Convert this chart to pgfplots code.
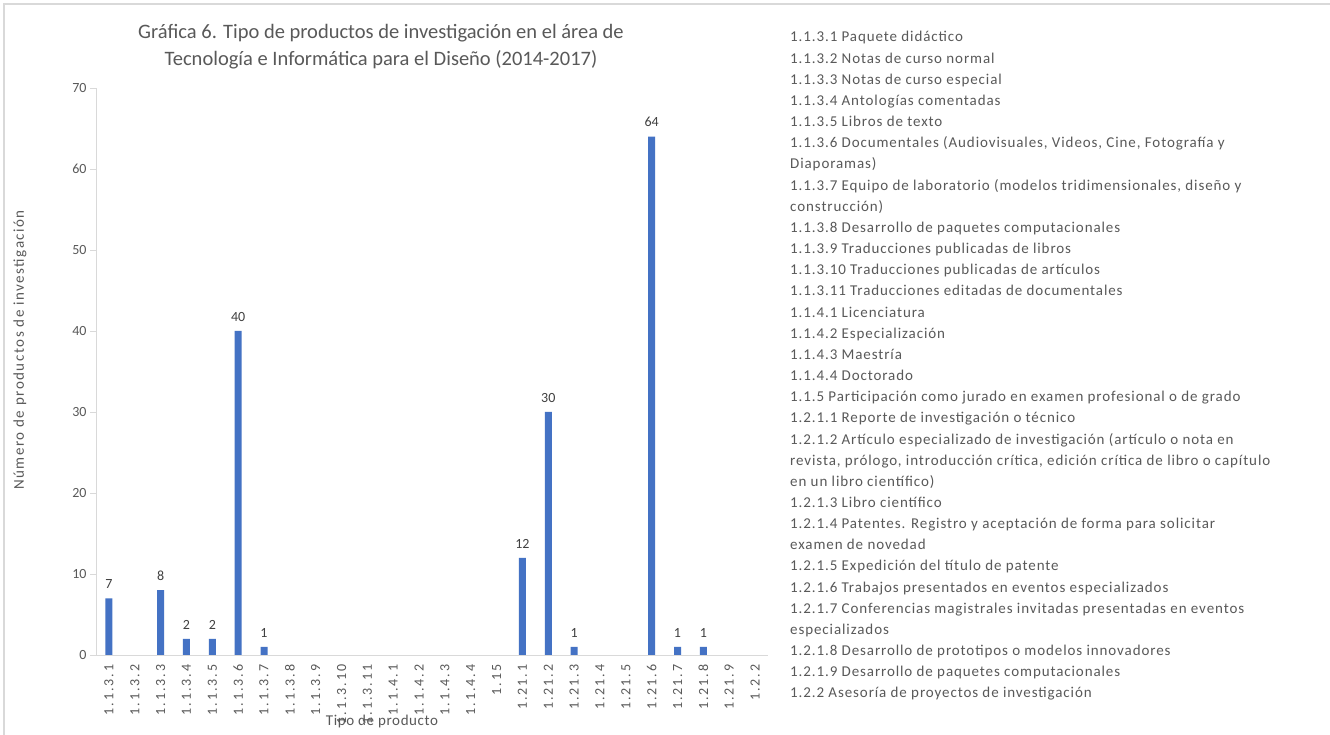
\documentclass[border=0pt]{standalone}
\usepackage{pgfplots}
\pgfplotsset{compat=1.18}
\usepackage{fontspec}
\setmainfont{Carlito}
\definecolor{excelblue}{HTML}{4472C4}
\definecolor{txtgray}{HTML}{595959}
\definecolor{lblgray}{HTML}{404040}
\definecolor{axgray}{HTML}{D9D9D9}
\begin{document}
\begin{tikzpicture}[x=1pt,y=1pt]
\useasboundingbox (0,0) rectangle (1330,735);
\fill[white] (0,0) rectangle (1330,735);
\draw[axgray, line width=1.2pt] (4,0) -- (4,731) -- (1330,731);
\node[font=\fontsize{20.5}{27}\selectfont, text=txtgray, align=center] at (381,688) {Gráfica 6. Tipo de productos de investigación en el área de\\Tecnología e Informática para el Diseño (2014-2017)};
\begin{axis}[
  at={(96pt,80pt)}, anchor=south west,
  scale only axis, width=672pt, height=567pt,
  xmin=-0.5, xmax=25.5, ymin=0, ymax=70,
  ytick distance=10,
  xtick={0,...,25},
  xticklabels={1.1.3.1,1.1.3.2,1.1.3.3,1.1.3.4,1.1.3.5,1.1.3.6,1.1.3.7,1.1.3.8,1.1.3.9,1.1.3.10,1.1.3.11,1.1.4.1,1.1.4.2,1.1.4.3,1.1.4.4,1.15,1.21.1,1.21.2,1.21.3,1.21.4,1.21.5,1.21.6,1.21.7,1.21.8,1.21.9,1.2.2},
  x tick label style={rotate=90, anchor=east, font=\fontsize{14}{15}\selectfont\addfontfeature{LetterSpace=14}, text=txtgray},
  y tick label style={font=\fontsize{14}{15}\selectfont, text=txtgray},
  /pgf/number format/assume math mode=true,
  axis x line*=bottom, axis y line*=left,
  axis line style={axgray, line width=0.8pt, -},
  xtick style={draw=none},
  ytick style={axgray, line width=0.8pt},
  tick align=outside, major tick length=6pt,
  xlabel={Tipo de producto},
  ylabel={Número de productos de investigación},
  xlabel style={font=\fontsize{15}{16}\selectfont\addfontfeature{LetterSpace=4}, text=txtgray, at={(axis description cs:0.4256,-0.118)}, anchor=center},
  ylabel style={font=\fontsize{15}{16}\selectfont\addfontfeature{LetterSpace=10}, text=txtgray, at={(axis description cs:-0.113,0.538)}, anchor=center},
  ybar, bar width=7pt,
  nodes near coords,
  nodes near coords style={font=\fontsize{14}{15}\selectfont, text=lblgray, yshift=6pt},
  point meta=explicit symbolic,
  clip=false,
]
\addplot[fill=excelblue, draw=none] table[meta=lab] {
x y lab
0 7 7
2 8 8
3 2 2
4 2 2
5 40 40
6 1 1
16 12 12
17 30 30
18 1 1
21 64 64
22 1 1
23 1 1
};
\end{axis}
\foreach \t [count=\i from 0] in {
{1.1.3.1 Paquete didáctico},
{1.1.3.2 Notas de curso normal},
{1.1.3.3 Notas de curso especial},
{1.1.3.4 Antologías comentadas},
{1.1.3.5 Libros de texto},
{1.1.3.6 Documentales (Audiovisuales, Videos, Cine, Fotografía y},
{Diaporamas)},
{1.1.3.7 Equipo de laboratorio (modelos tridimensionales, diseño y},
{construcción)},
{1.1.3.8 Desarrollo de paquetes computacionales},
{1.1.3.9 Traducciones publicadas de libros},
{1.1.3.10 Traducciones publicadas de artículos},
{1.1.3.11 Traducciones editadas de documentales},
{1.1.4.1 Licenciatura},
{1.1.4.2 Especialización},
{1.1.4.3 Maestría},
{1.1.4.4 Doctorado},
{1.1.5 Participación como jurado en examen profesional o de grado},
{1.2.1.1 Reporte de investigación o técnico},
{1.2.1.2 Artículo especializado de investigación (artículo o nota en},
{revista, prólogo, introducción crítica, edición crítica de libro o capítulo},
{en un libro científico)},
{1.2.1.3 Libro científico},
{1.2.1.4 Patentes. Registro y aceptación de forma para solicitar},
{examen de novedad},
{1.2.1.5 Expedición del título de patente},
{1.2.1.6 Trabajos presentados en eventos especializados},
{1.2.1.7 Conferencias magistrales invitadas presentadas en eventos},
{especializados},
{1.2.1.8 Desarrollo de prototipos o modelos innovadores},
{1.2.1.9 Desarrollo de paquetes computacionales},
{1.2.2 Asesoría de proyectos de investigación}} {
  \node[anchor=base west, inner sep=0pt, font=\fontsize{15}{17}\selectfont\addfontfeature{LetterSpace=6}, text=txtgray] at (790, {735-42-21.16*\i}) {\t};
}
\end{tikzpicture}
\end{document}
